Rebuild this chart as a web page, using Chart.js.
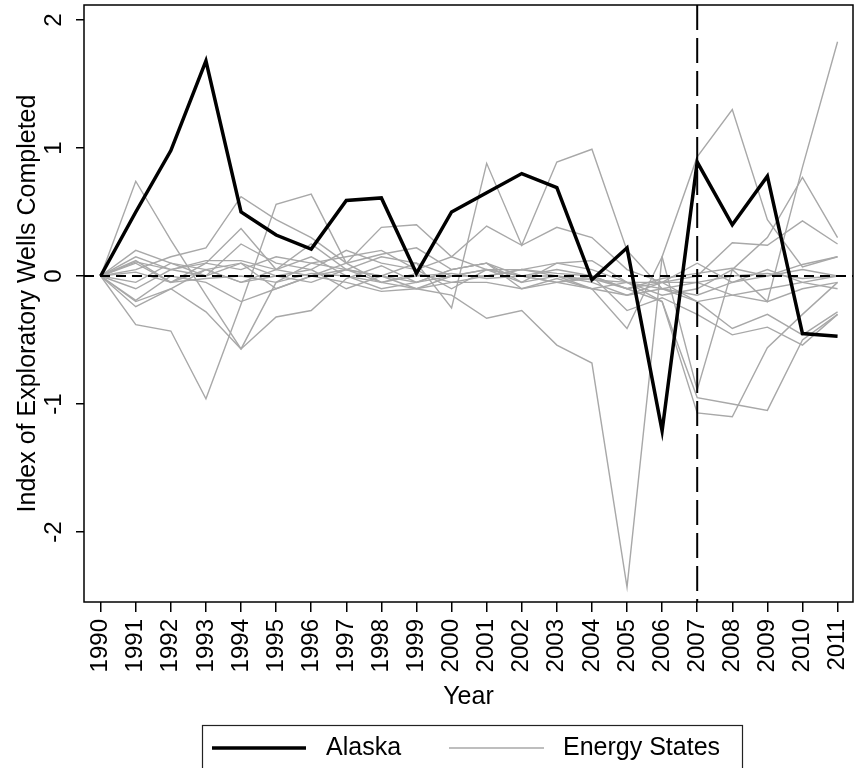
<!DOCTYPE html>
<html>
<head>
<meta charset="utf-8">
<script src="https://cdn.jsdelivr.net/npm/chart.js@4.4.1/dist/chart.umd.min.js"></script>
<style>
  html, body { margin: 0; padding: 0; background: #ffffff; }
  #wrap { width: 859px; height: 768px; position: relative; }
</style>
</head>
<body>
<div id="wrap"><canvas id="c" width="859" height="768"></canvas></div>
<script>
// ---------------- DATA ----------------
const YEARS = [1990, 1991, 1992, 1993, 1994, 1995, 1996, 1997, 1998, 1999, 2000,
               2001, 2002, 2003, 2004, 2005, 2006, 2007, 2008, 2009, 2010, 2011];
const Y_TICKS = [-2, -1, 0, 1, 2];
const Y_MIN = -2.547, Y_MAX = 2.117;
const X_MIN = 1989.525, X_MAX = 2011.44;
const ZERO_LINE = 0;
const TREATMENT_YEAR = 2007;

const ALASKA = [0, 0.50, 0.98, 1.68, 0.50, 0.32, 0.21, 0.59, 0.61, 0.02, 0.50,
                0.65, 0.80, 0.69, -0.03, 0.22, -1.21, 0.89, 0.40, 0.78, -0.45, -0.47];

const ES_01 = [0, 0.74, 0.28, -0.15, -0.57, -0.32, -0.27, -0.02, 0.08, -0.05, 0.05, 0.10, -0.05, 0.00, -0.10, -0.15, -0.10, -0.20, -0.15, -0.10, -0.05, 0.00];
const ES_02 = [0, -0.38, -0.43, -0.96, -0.22, 0.56, 0.64, 0.10, -0.05, 0.02, -0.05, 0.00, 0.05, 0.00, -0.05, -0.15, -0.05, 0.10, -0.05, 0.05, -0.05, -0.10];
const ES_03 = [0, -0.20, -0.10, -0.28, -0.57, -0.05, 0.10, 0.15, 0.20, 0.05, -0.10, 0.05, 0.00, -0.05, -0.10, -0.05, -0.20, -0.95, -1.00, -1.05, -0.50, -0.30];
const ES_04 = [0, -0.10, 0.05, 0.00, 0.10, -0.10, 0.00, 0.05, -0.05, -0.10, 0.00, 0.05, 0.00, -0.05, -0.02, -0.10, -0.20, -1.07, -1.10, -0.56, -0.30, -0.05];
const ES_05 = [0, -0.05, 0.10, 0.05, -0.05, 0.00, -0.05, 0.05, 0.00, -0.10, -0.15, -0.33, -0.27, -0.54, -0.68, -2.43, 0.15, 0.93, 1.30, 0.44, 0.07, 0.15];
const ES_06 = [0, 0.10, -0.05, 0.05, 0.10, 0.00, 0.05, -0.10, 0.00, 0.10, -0.25, 0.88, 0.24, 0.89, 0.99, 0.20, -0.10, -0.15, -0.05, 0.00, 0.05, 0.00];
const ES_07 = [0, 0.15, 0.05, 0.10, 0.05, 0.15, 0.10, 0.05, 0.15, 0.10, 0.00, 0.05, 0.05, 0.10, 0.05, -0.05, -0.10, -0.05, -0.15, -0.20, 0.85, 1.83];
const ES_08 = [0, 0.20, 0.10, 0.00, 0.25, 0.10, 0.05, 0.20, 0.10, 0.05, 0.15, 0.05, -0.05, 0.10, 0.12, -0.05, -0.15, -0.10, 0.05, 0.30, 0.77, 0.30];
const ES_09 = [0, 0.12, -0.05, 0.10, 0.37, 0.05, 0.00, 0.10, 0.38, 0.40, 0.15, 0.39, 0.24, 0.38, 0.30, 0.05, -0.05, 0.00, 0.26, 0.24, 0.43, 0.25];
const ES_10 = [0, 0.05, 0.15, 0.22, 0.62, 0.44, 0.30, 0.10, 0.17, 0.22, 0.05, 0.10, 0.00, 0.05, 0.00, -0.10, -0.05, -0.20, -0.41, -0.30, -0.46, -0.28];
const ES_11 = [0, -0.24, -0.10, 0.05, -0.05, 0.05, 0.15, 0.00, -0.10, -0.05, 0.05, 0.10, -0.10, -0.05, 0.00, -0.27, -0.17, -0.30, -0.46, -0.40, -0.54, -0.30];
const ES_12 = [0, 0.11, 0.05, 0.12, 0.12, 0.05, 0.25, 0.05, 0.00, -0.05, 0.00, 0.00, 0.05, 0.02, 0.00, -0.10, -0.02, 0.02, 0.06, 0.00, 0.09, 0.15];
const ES_13 = [0, -0.19, 0.00, -0.05, -0.20, -0.10, 0.00, -0.05, -0.12, -0.10, -0.05, -0.05, -0.10, -0.02, -0.10, -0.41, 0.15, -0.89, 0.05, -0.20, -0.10, -0.05];
const ES_14 = [0, 0.03, -0.05, -0.02, 0.00, -0.05, 0.02, 0.00, -0.05, 0.00, 0.02, -0.02, 0.00, 0.00, -0.03, -0.05, -0.05, -0.05, 0.00, 0.02, -0.02, 0.00];
const ENERGY_STATES = [ES_01, ES_02, ES_03, ES_04, ES_05, ES_06, ES_07, ES_08, ES_09, ES_10, ES_11, ES_12, ES_13, ES_14];

const LABEL_ALASKA = 'Alaska';
const LABEL_STATES = 'Energy States';
const X_TITLE = 'Year';
const Y_TITLE = 'Index of Exploratory Wells Completed';

// ---------------- STYLE ----------------
const FONT = "'Liberation Sans', Arial, Helvetica, sans-serif";
const GRAY = '#a8a8a8';

const toXY = vals => YEARS.map((yr, i) => ({ x: yr, y: vals[i] }));

const datasets = [{
  label: LABEL_ALASKA, data: toXY(ALASKA), borderColor: '#000000', borderWidth: 3.5,
  pointRadius: 0, tension: 0, order: 0, borderJoinStyle: 'miter'
}];
ENERGY_STATES.forEach(s => datasets.push({
  label: LABEL_STATES, data: toXY(s), borderColor: GRAY, borderWidth: 1.4,
  pointRadius: 0, tension: 0, order: 1
}));

const refLines = {
  id: 'refLines',
  beforeDatasetDraw(chart, args) {
    if (args.index !== 0) return;
    const { ctx, chartArea: a, scales: { x, y } } = chart;
    ctx.save();
    ctx.beginPath(); ctx.rect(a.left, a.top, a.right - a.left, a.bottom - a.top); ctx.clip();
    const py = y.getPixelForValue(ZERO_LINE);
    ctx.strokeStyle = '#000'; ctx.lineWidth = 2; ctx.setLineDash([10, 6]);
    ctx.beginPath(); ctx.moveTo(a.left, py); ctx.lineTo(a.right, py); ctx.stroke();
    const px = x.getPixelForValue(TREATMENT_YEAR);
    ctx.setLineDash([25, 8]); ctx.lineWidth = 2;
    ctx.beginPath(); ctx.moveTo(px, a.top); ctx.lineTo(px, a.bottom); ctx.stroke();
    ctx.restore();
  }
};

const frameAndLegend = {
  id: 'frameAndLegend',
  afterDraw(chart) {
    const { ctx, chartArea: a } = chart;
    ctx.save();
    ctx.strokeStyle = '#000'; ctx.lineWidth = 1.5; ctx.setLineDash([]);
    ctx.strokeRect(a.left, a.top, a.right - a.left, a.bottom - a.top);
    const bx = 202, by = 725, bw = 540, bh = 70, ly = 748;
    ctx.lineWidth = 1.2; ctx.strokeStyle = '#222';
    ctx.strokeRect(bx + 0.5, by + 0.5, bw, bh);
    const d0 = chart.data.datasets[0], d1 = chart.data.datasets[1];
    ctx.strokeStyle = d0.borderColor; ctx.lineWidth = d0.borderWidth;
    ctx.beginPath(); ctx.moveTo(212, ly); ctx.lineTo(306, ly); ctx.stroke();
    ctx.strokeStyle = d1.borderColor; ctx.lineWidth = 1.6;
    ctx.beginPath(); ctx.moveTo(449, ly); ctx.lineTo(544, ly); ctx.stroke();
    ctx.fillStyle = '#000'; ctx.font = '25px ' + FONT; ctx.textBaseline = 'middle'; ctx.textAlign = 'left';
    ctx.fillText(d0.label, 326, ly);
    ctx.fillText(d1.label, 563, ly);
    ctx.restore();
  }
};

new Chart(document.getElementById('c'), {
  type: 'line',
  data: { datasets },
  options: {
    responsive: false, animation: false, devicePixelRatio: 1,
    layout: { padding: { left: 0, top: 5, right: 6, bottom: 56 } },
    plugins: { legend: { display: false }, tooltip: { enabled: false } },
    scales: {
      x: {
        type: 'linear', min: X_MIN, max: X_MAX,
        afterBuildTicks: s => { s.ticks = YEARS.map(v => ({ value: v })); },
        afterFit: s => { s.height = 110; s.paddingLeft = 0; s.paddingRight = 0; },
        ticks: { autoSkip: false, minRotation: 90, maxRotation: 90, padding: 7, color: '#000',
                 font: { family: FONT, size: 24 }, callback: v => String(v) },
        grid: { display: true, drawOnChartArea: false, drawTicks: true, tickLength: 10, color: '#000', lineWidth: 1.5 },
        border: { display: false },
        title: { display: true, text: X_TITLE, color: '#000', font: { family: FONT, size: 25 }, padding: { top: 0, bottom: 0 } }
      },
      y: {
        type: 'linear', min: Y_MIN, max: Y_MAX,
        afterBuildTicks: s => { s.ticks = Y_TICKS.map(v => ({ value: v })); },
        afterFit: s => { s.width = 84; s.paddingTop = 0; s.paddingBottom = 0; },
        ticks: { minRotation: 90, maxRotation: 90, crossAlign: 'center', padding: 11, color: '#000',
                 font: { family: FONT, size: 24 }, callback: v => String(v) },
        grid: { display: true, drawOnChartArea: false, drawTicks: true, tickLength: 8, color: '#000', lineWidth: 1.5 },
        border: { display: false },
        title: { display: true, text: Y_TITLE, color: '#000', font: { family: FONT, size: 25 }, padding: { top: 13, bottom: 0 } }
      }
    }
  },
  plugins: [refLines, frameAndLegend]
});
</script>
</body>
</html>
